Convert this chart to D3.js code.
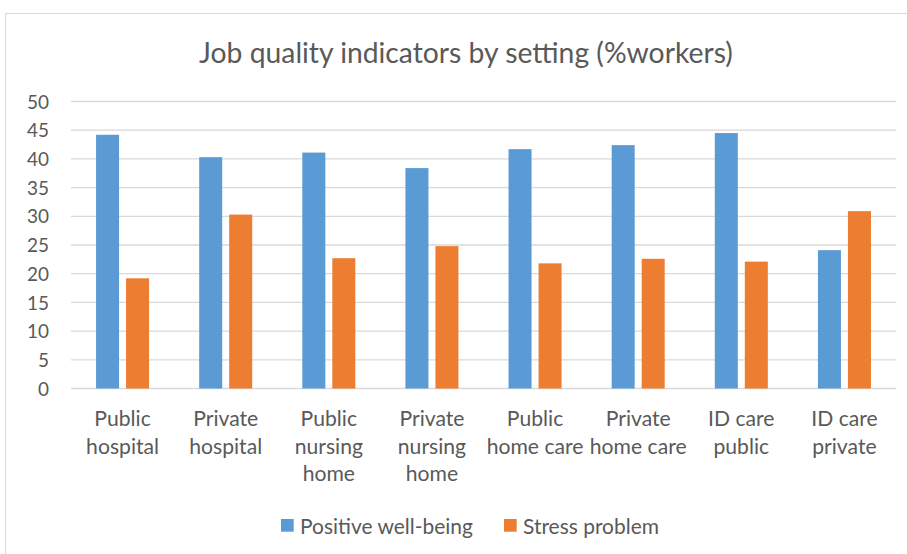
<!DOCTYPE html>
<html>
<head>
<meta charset="utf-8">
<script src="https://cdn.jsdelivr.net/npm/d3@7"></script>
<style>
  html, body { margin: 0; padding: 0; background: #fff; }
  svg { display: block; }
</style>
</head>
<body>
<svg id="chart" width="907" height="554"></svg>
<script>
// ---- data ----
const categories = ["Public hospital", "Private hospital", "Public nursing home", "Private nursing home",
                    "Public home care", "Private home care", "ID care public", "ID care private"];
const categoryLines = [["Public", "hospital"], ["Private", "hospital"], ["Public", "nursing", "home"],
                       ["Private", "nursing", "home"], ["Public", "home care"], ["Private", "home care"],
                       ["ID care", "public"], ["ID care", "private"]];
const seriesNames = ["Positive well-being", "Stress problem"];
const positiveWellBeing = [44.2, 40.3, 41.1, 38.4, 41.7, 42.4, 44.5, 24.1];
const stressProblem     = [19.2, 30.3, 22.7, 24.8, 21.8, 22.6, 22.1, 30.9];
const yTicks = [0, 5, 10, 15, 20, 25, 30, 35, 40, 45, 50];
const titleText = "Job quality indicators by setting (%workers)";

// ---- styling ----
const colors = ["#5B9BD5", "#ED7D31"];
const textColor = "#595959";
const gridColor = "#D9D9D9";
const fontFamily = "Lato, 'Open Sans', 'DejaVu Sans', sans-serif";

const svg = d3.select("#chart");

// fit a font size so a sample string has a given width
function fitSize(sample, target, weight) {
  const t = svg.append("text").attr("font-family", fontFamily)
    .attr("font-weight", weight || 400).attr("font-size", 100).text(sample);
  const w = t.node().getComputedTextLength();
  t.remove();
  return 100 * target / w;
}
const titleSize = fitSize(titleText, 534, 400);
const catSize = fitSize("hospital", 73);
const tickSize = fitSize("50", 22);
const legendSize = fitSize("Positive well-being", 173);

// chart border
svg.append("rect").attr("x", 5.5).attr("y", 13.5).attr("width", 920).attr("height", 600)
  .attr("fill", "none").attr("stroke", gridColor).attr("stroke-width", 1);

// title
svg.append("text").attr("x", 466).attr("y", 52).attr("text-anchor", "middle")
  .attr("dominant-baseline", "central")
  .attr("font-family", fontFamily).attr("font-weight", 400).attr("font-size", titleSize)
  .attr("fill", textColor).text(titleText);

// scales
const plotLeft = 71, plotRight = 896, plotTop = 101.5, plotBottom = 388.5;
const x0 = d3.scaleBand().domain(categories).range([plotLeft, plotRight]).paddingInner(0).paddingOuter(0);
const x1 = d3.scaleBand().domain(seriesNames).range([0, x0.bandwidth()]).paddingInner(0.233).paddingOuter(0.835);
const y = d3.scaleLinear().domain([0, 50]).range([plotBottom, plotTop]);

// gridlines
svg.append("g").selectAll("line").data(yTicks).join("line")
  .attr("x1", plotLeft).attr("x2", plotRight)
  .attr("y1", d => y(d)).attr("y2", d => y(d))
  .attr("stroke", gridColor).attr("stroke-width", 1.3);

// y axis labels
const yAxis = d3.axisLeft(y).tickValues(yTicks).tickSize(0).tickPadding(0);
const yg = svg.append("g").attr("transform", `translate(49,0)`).call(yAxis);
yg.select(".domain").remove();
yg.selectAll("text").attr("font-family", fontFamily).attr("font-size", tickSize)
  .attr("fill", textColor).attr("dy", "0.35em");

// bars
const seriesData = [positiveWellBeing, stressProblem];
const groups = svg.append("g").selectAll("g").data(categories).join("g")
  .attr("transform", d => `translate(${x0(d)},0)`);
groups.selectAll("rect").data((d, i) => seriesNames.map((s, j) => ({ s, v: seriesData[j][i], j })))
  .join("rect")
  .attr("x", d => x1(d.s)).attr("width", x1.bandwidth())
  .attr("y", d => y(d.v)).attr("height", d => y(0) - y(d.v))
  .attr("fill", d => colors[d.j]);

// category labels
const catG = svg.append("g");
categories.forEach((c, i) => {
  const cx = x0(c) + x0.bandwidth() / 2;
  const t = catG.append("text").attr("text-anchor", "middle")
    .attr("font-family", fontFamily).attr("font-size", catSize).attr("fill", textColor);
  categoryLines[i].forEach((line, k) => {
    t.append("tspan").attr("x", cx).attr("y", 418 + k * 27.6)
      .attr("dominant-baseline", "central").text(line);
  });
});

// legend
const legendItems = [{ name: seriesNames[0], x: 281, tx: 300 }, { name: seriesNames[1], x: 504, tx: 523 }];
const lg = svg.append("g");
legendItems.forEach((d, i) => {
  lg.append("rect").attr("x", d.x).attr("y", 519).attr("width", 12.7).attr("height", 12.7).attr("fill", colors[i]);
  lg.append("text").attr("x", d.tx).attr("y", 525).attr("dominant-baseline", "central")
    .attr("font-family", fontFamily).attr("font-size", legendSize).attr("fill", textColor).text(d.name);
});
</script>
</body>
</html>
